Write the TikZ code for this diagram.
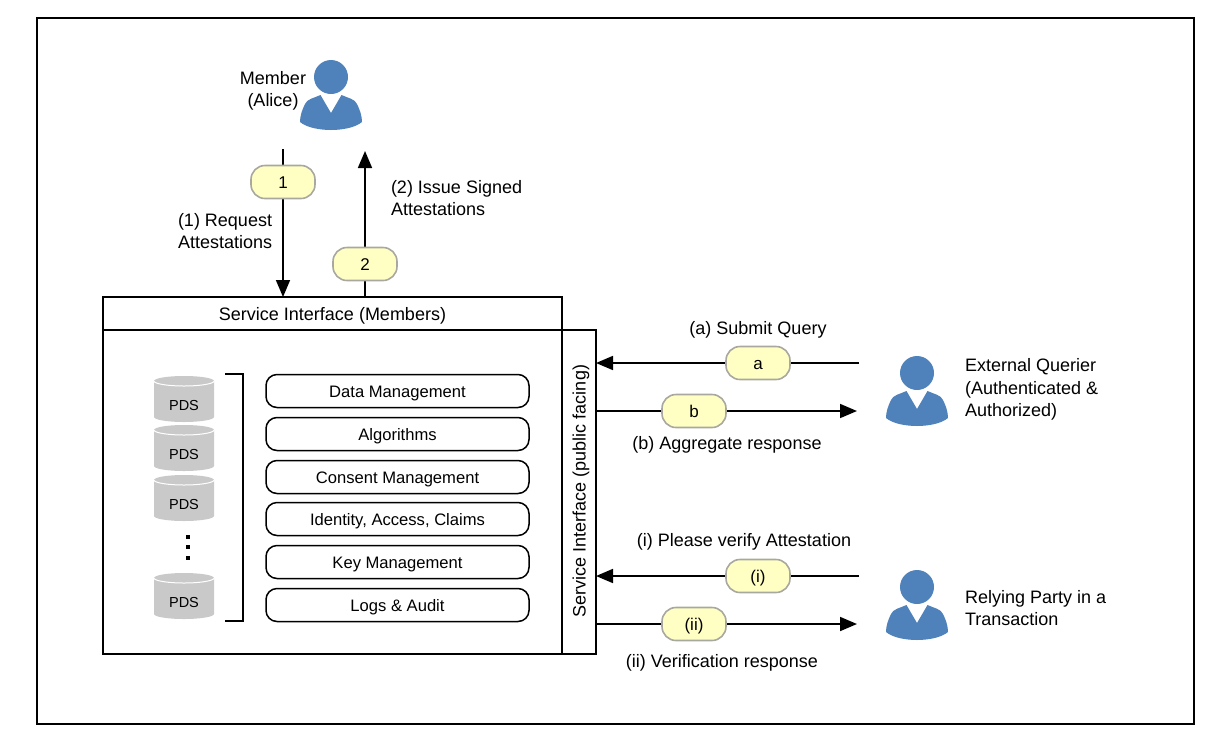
\documentclass[tikz,border=0pt]{standalone}
\usepackage{fontspec}
\setmainfont{Liberation Sans}
\usetikzlibrary{arrows.meta,backgrounds}
\definecolor{personblue}{HTML}{4F81BA}
\definecolor{pillfill}{HTML}{FFFFC4}
\definecolor{pillline}{HTML}{A8A8A0}
\definecolor{pdsgray}{HTML}{C9C9C9}
\tikzset{
  x=1pt,y=-1pt,
  lbl/.style={inner sep=0pt,outer sep=0pt,font=\fontsize{18}{22.5}\selectfont},
  lbll/.style={lbl,align=left,anchor=west},
  lblc/.style={lbl,align=center},
  box/.style={draw=black,line width=1.6pt,inner sep=0pt,outer sep=0pt,font=\fontsize{18}{20}\selectfont},
  pill/.style={draw=pillline,fill=pillfill,line width=1.6pt,rounded corners=14pt,minimum width=64pt,minimum height=33pt,inner sep=0pt,text height=12pt,text depth=0pt,font=\fontsize{17}{20}\selectfont},
  row/.style={draw=black,line width=1.5pt,rounded corners=11pt,minimum width=263pt,minimum height=33pt,inner sep=0pt,text height=12pt,text depth=0pt,font=\fontsize{16.6}{20}\selectfont},
  conn/.style={draw=black,line width=1.7pt},
  arr/.style={conn,-{Triangle[length=17pt,width=14pt]}},
  pdstext/.style={inner sep=0pt,font=\fontsize{14.5}{18}\selectfont},
  person/.pic={
    \fill[personblue] (0,0) circle[radius=17];
    \fill[personblue] (-10.5,18) -- (0,36) -- (10.5,18)
       .. controls (17,21) and (24,22) .. (26,27)
       .. controls (29,33) and (31,39) .. (31,45)
       .. controls (24,51) and (10,53) .. (0,53)
       .. controls (-10,53) and (-24,51) .. (-31,45)
       .. controls (-31,39) and (-29,33) .. (-26,27)
       .. controls (-24,22) and (-17,21) .. (-10.5,18) -- cycle;
  },
  cyl/.pic={
    \fill[pdsgray] (-30,5) arc[start angle=180,end angle=360,x radius=30,y radius=5]
       -- (30,41) arc[start angle=0,end angle=180,x radius=30,y radius=5] -- cycle;
    \draw[white,line width=1pt] (-30,5) arc[start angle=180,end angle=0,x radius=30,y radius=5];
  },
}
\begin{document}
\begin{tikzpicture}
\useasboundingbox (0,0) rectangle (1216,748);
\node[draw=black,line width=1.6pt,minimum width=1157pt,minimum height=706pt,inner sep=0pt,outer sep=0pt] (frame) at (615.5,371) {};

\node[box,minimum width=459pt,minimum height=33pt,text height=13pt,text depth=0pt] (members) at (332.5,313.5) {Service Interface (Members)};
\node[box,minimum width=459pt,minimum height=324pt] (core) at (332.5,492) {};
\node[box,minimum width=34pt,minimum height=324pt] (public) at (579,492) {};
\node[lbl,rotate=90,text height=13pt,text depth=0pt] (publicText) at (579,491) {Service Interface (public facing)};

\pic at (331,77) {person};
\pic at (917,373) {person};
\pic at (917,587) {person};

\node[lblc] (member) at (273,91) {Member\\(Alice)};
\node[lbll] (lreq) at (178,231) {(1) Request\\Attestations};
\node[lbll] (liss) at (391,198) {(2) Issue Signed\\Attestations};
\node[lblc] (lsub) at (758,330) {(a) Submit Query};
\node[lblc] (lagg) at (727,445) {(b) Aggregate response};
\node[lblc] (lver) at (744,542) {(i) Please verify Attestation};
\node[lblc] (lres) at (722,663) {(ii) Verification response};
\node[lbll] (lext) at (965,389.5) {External Querier\\(Authenticated \&\\Authorized)};
\node[lbll] (lrel) at (965,608) {Relying Party in a\\Transaction};

\pic at (184,376) {cyl};
\pic at (184,425) {cyl};
\pic at (184,475) {cyl};
\pic at (184,573) {cyl};
\node[pdstext] (pds1) at (184,405) {PDS};
\node[pdstext] (pds2) at (184,454) {PDS};
\node[pdstext] (pds3) at (184,504) {PDS};
\node[pdstext] (pds4) at (184,602) {PDS};
\fill[black] (186,534.5) rectangle (190,538.5);
\fill[black] (186,545) rectangle (190,549);
\fill[black] (186,556) rectangle (190,560);
\draw[black,line width=1.2pt] (225,374) -- (243,374) -- (243,621) -- (225,621);

\node[row] (r1) at (397.5,391) {Data Management};
\node[row] (r2) at (397.5,434) {Algorithms};
\node[row] (r3) at (397.5,477) {Consent Management};
\node[row] (r4) at (397.5,519) {Identity, Access, Claims};
\node[row] (r5) at (397.5,562) {Key Management};
\node[row] (r6) at (397.5,605) {Logs \& Audit};

\coordinate (c1) at (283,149);
\coordinate (c2) at (365,151);
\coordinate (ca) at (859,363);
\coordinate (cb) at (857,411);
\coordinate (ci) at (859,576);
\coordinate (cii) at (857,624);

\node[pill] (p1) at (283,182) {1};
\node[pill] (p2) at (365,264) {2};
\node[pill] (pa) at (758,363) {a};
\node[pill] (pb) at (694,411) {b};
\node[pill] (pi) at (758,576) {(i)};
\node[pill] (pii) at (694,624) {(ii)};

\begin{scope}[on background layer]
\draw[arr] (c1) -- (c1 |- members.north);
\draw[arr] (c2 |- members.north) -- (c2);
\draw[arr] (ca) -- (ca -| public.east);
\draw[arr] (cb -| public.east) -- (cb);
\draw[arr] (ci) -- (ci -| public.east);
\draw[arr] (cii -| public.east) -- (cii);
\end{scope}
\end{tikzpicture}
\end{document}
